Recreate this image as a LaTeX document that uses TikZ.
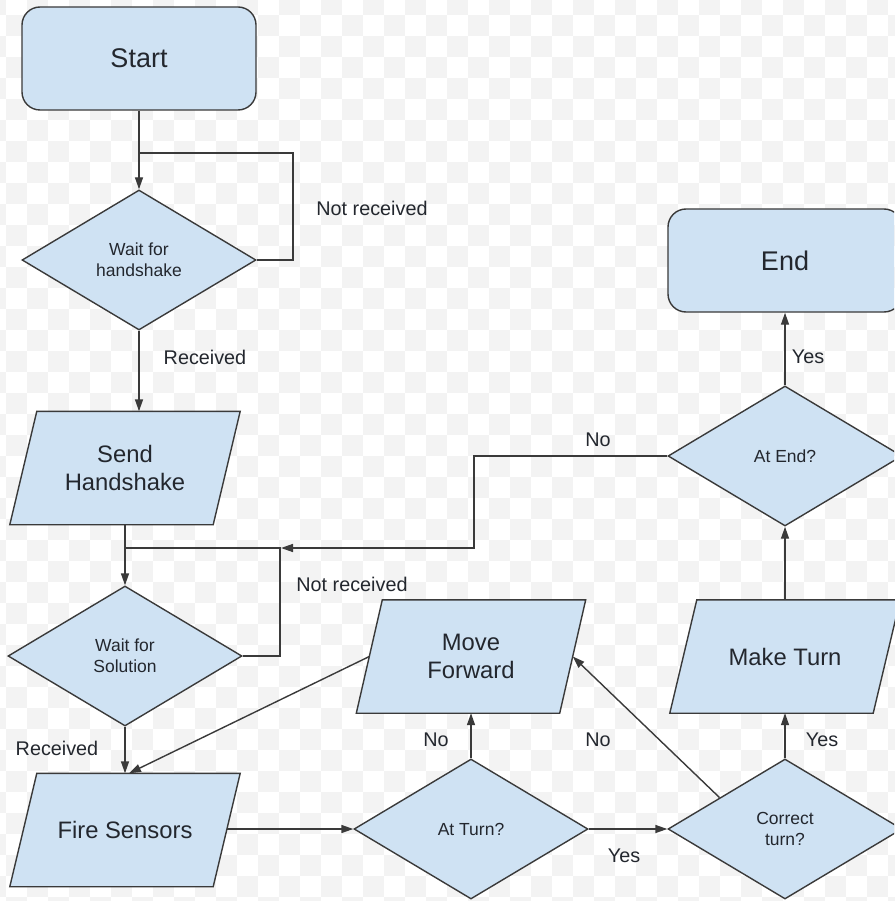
\documentclass[tikz,border=0pt]{standalone}
\usepackage{fontspec}
\setmainfont{Liberation Sans}
\usetikzlibrary{shapes.geometric,arrows.meta,calc,backgrounds}

\definecolor{boxfill}{HTML}{CFE2F3}
\definecolor{edgecol}{HTML}{3A3A3A}
\definecolor{txtcol}{HTML}{23272E}
\definecolor{checker}{HTML}{F3F3F3}

\tikzset{
  shapeline/.style={draw=edgecol, line width=1.4pt, fill=boxfill},
  terminal/.style={shapeline, rounded corners=18pt, minimum width=234pt, minimum height=103pt,
    inner sep=0pt, text=txtcol, font=\fontsize{27}{32}\selectfont},
  iobox/.style={draw=none, fill=none, minimum width=203pt, minimum height=113pt,
    inner sep=0pt, align=center, text=txtcol, font=\fontsize{23.8}{28}\selectfont},
  decision/.style={shapeline, diamond, minimum width=234pt, minimum height=140pt,
    inner sep=0pt, align=center, text=txtcol, font=\fontsize{17.5}{21}\selectfont},
  lbl/.style={text=txtcol, inner sep=0pt, font=\fontsize{19.8}{23}\selectfont},
  link/.style={draw=edgecol, line width=1.4pt},
  arr/.style={link, -{Triangle[length=12pt,width=8pt]}},
}

% parallelogram behind an iobox node, slanted by 2*#2
\newcommand{\slantbox}[2]{%
  \begin{pgfonlayer}{background}
    \path[shapeline] ([xshift=#2pt]#1.north west) -- ([xshift=#2pt]#1.north east)
      -- ([xshift=-#2pt]#1.south east) -- ([xshift=-#2pt]#1.south west) -- cycle;
  \end{pgfonlayer}}

\begin{document}
\begin{tikzpicture}[x=1pt, y=-1pt]
\useasboundingbox (0,0) rectangle (894,901);
\clip (0,0) rectangle (894,901);

% faint checkered backdrop, kept below the parallelograms
\begin{pgfonlayer}{background}
\fill[white] (0,0) rectangle (894,901);
\foreach \i in {0,...,43} {
  \foreach \j in {0,...,43} {
    \pgfmathtruncatemacro{\cellparity}{mod(\i+\j,2)}
    \ifnum\cellparity=0
      \fill[checker] (6-21+21*\i, 15-21+21*\j) rectangle ++(21,21);
    \fi
  }
}
\end{pgfonlayer}

% left column
\node[terminal] (start) at (139,58.5) {Start};
\node[decision] (hs) at (139,260) {Wait for\\handshake};
\node[iobox] (send) at (125,468) {Send\\Handshake};
\slantbox{send}{13.5}
\node[decision] (sol) at (125,656) {Wait for\\Solution};
\node[iobox] (fire) at (125,830) {Fire Sensors};
\slantbox{fire}{13.5}

% middle
\node[iobox] (mf) at (471,656.5) {Move\\Forward};
\slantbox{mf}{13}
\node[decision] (turn) at (471,829) {At Turn?};

% right column
\node[terminal] (end) at (785,260.5) {End};
\node[decision] (atend) at (785,456) {At End?};
\node[iobox] (mt) at (785,656.5) {Make Turn};
\slantbox{mt}{13.5}
\node[decision] (ct) at (785,829) {Correct\\turn?};

% junctions and bends
\coordinate (j1) at (139,153);
\coordinate (j2) at (125,548);
\coordinate (r2) at (280,548);
\coordinate (nobend) at (474,456);

% connectors
\draw[arr] (start.south) -- (hs.north);
\draw[link] (hs.east) -- (293,260) |- (j1);
\draw[arr] (hs.south) -- (hs.south |- send.north);
\draw[arr] (send.south) -- (sol.north);
\draw[link] (sol.east) -| (r2) -- (j2);
\draw[arr] (atend.west) -- (nobend) |- ([xshift=1pt]r2);
\draw[arr] (sol.south) -- (fire.north);
\draw[arr] (mf.west) -- ([xshift=4pt]fire.north);
\draw[arr] (fire.east |- turn.west) -- (turn.west);
\draw[arr] (turn.north) -- (mf.south);
\draw[arr] (turn.east) -- (ct.west);
\draw[arr] ($(ct.west)!0.444!(ct.north)$) -- (mf.east);
\draw[arr] (ct.north) -- (mt.south);
\draw[arr] (mt.north) -- (atend.south);
\draw[arr] (atend.north) -- (end.south);

% branch labels
\node[lbl] (l1) at (372,208) {Not received};
\node[lbl] (l2) at (205,357) {Received};
\node[lbl] (l3) at (352,584) {Not received};
\node[lbl] (l4) at (57,748) {Received};
\node[lbl] (l5) at (598,440) {No};
\node[lbl] (l6) at (436,740) {No};
\node[lbl] (l7) at (598,740) {No};
\node[lbl] (l8) at (822,740) {Yes};
\node[lbl] (l9) at (624,856) {Yes};
\node[lbl] (l10) at (808,357) {Yes};
\end{tikzpicture}
\end{document}
